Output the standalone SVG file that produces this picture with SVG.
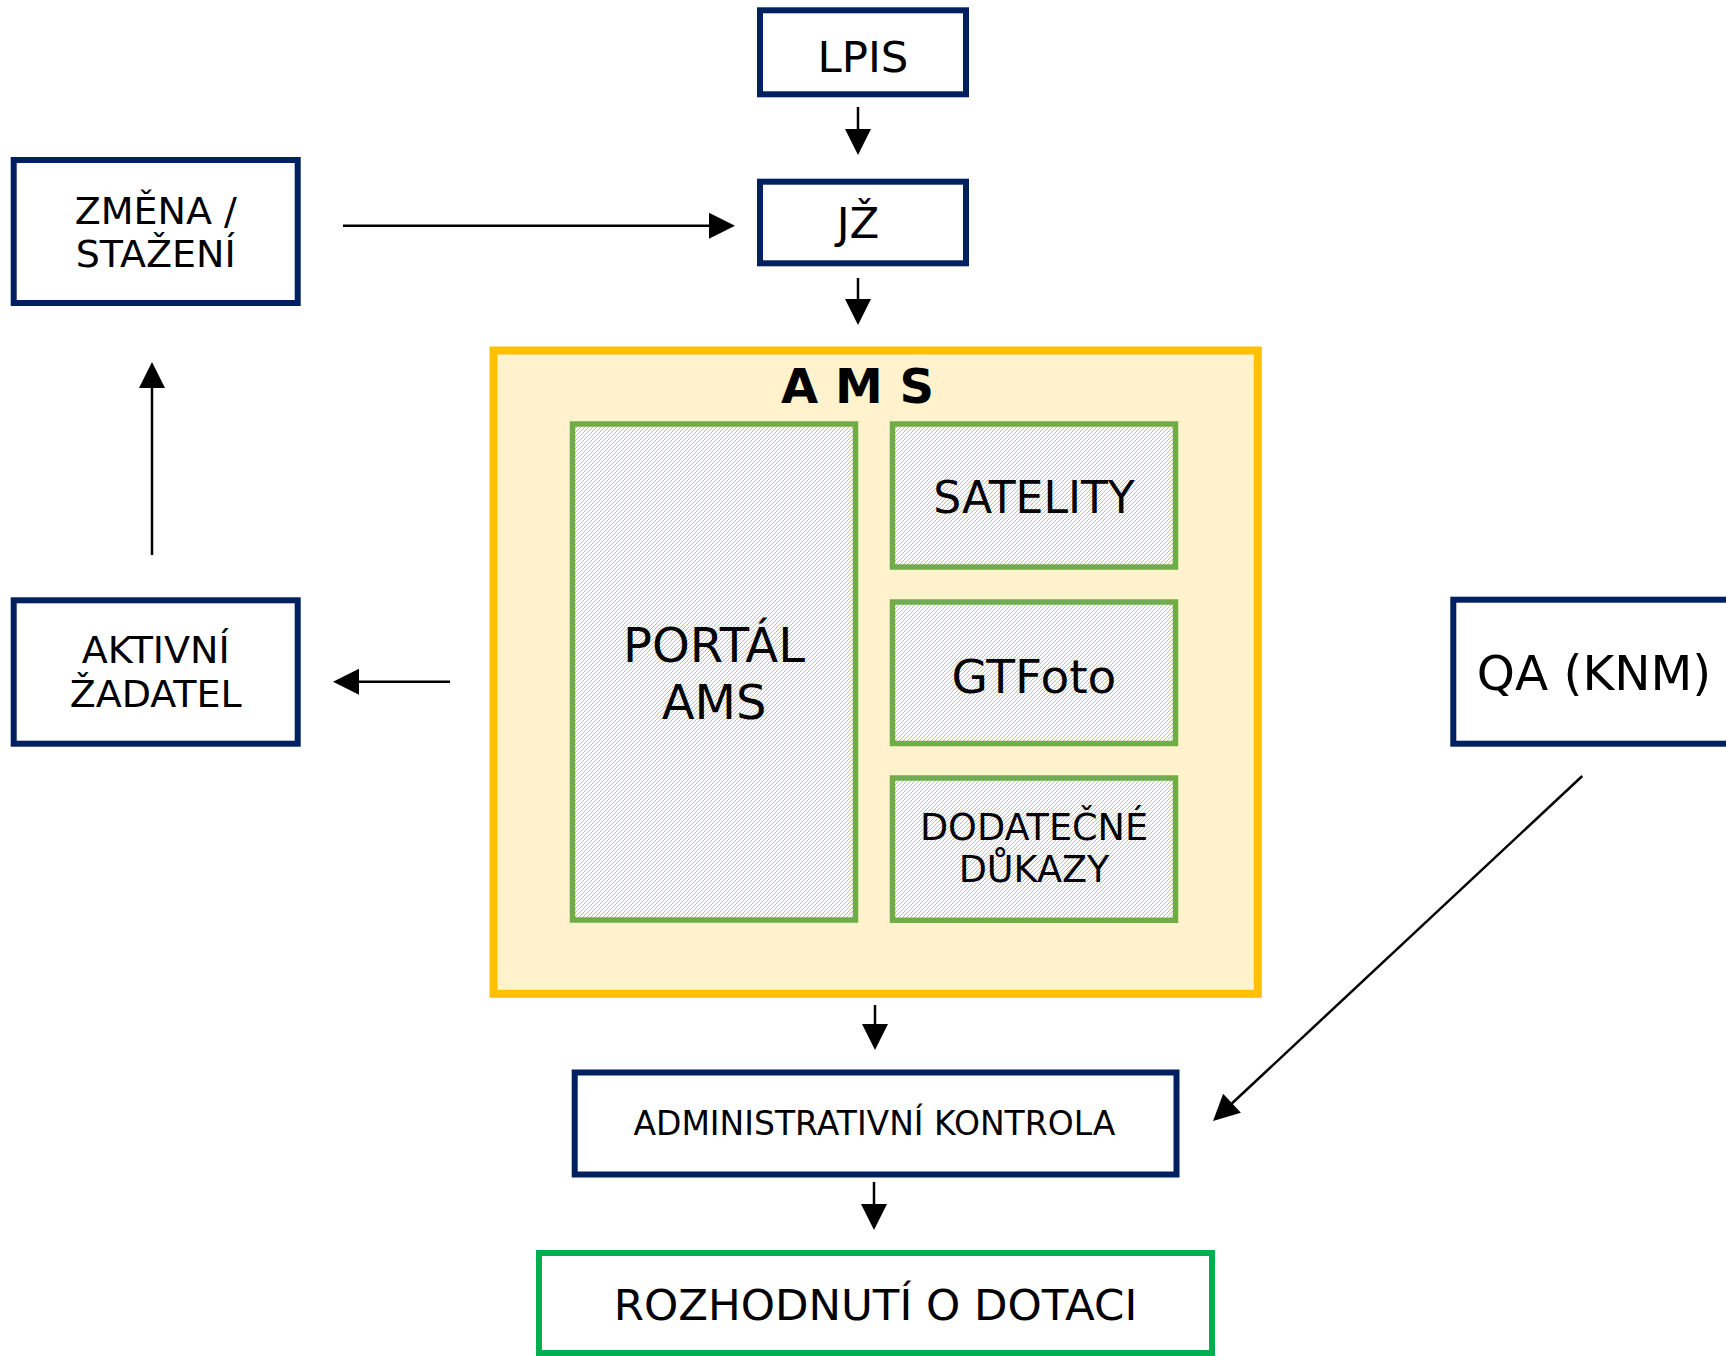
<svg xmlns="http://www.w3.org/2000/svg" width="1726" height="1356" viewBox="0 0 1726 1356">
<style>
text{font-family:"DejaVu Sans",Verdana,sans-serif;fill:#000;text-anchor:middle}
.nv{fill:#fff;stroke:#002060;stroke-width:6}
.gr{fill:url(#hatch);stroke:#70AD47;stroke-width:5.5}
.ln{stroke:#000;stroke-width:2.5;fill:none;marker-end:url(#ah)}
</style>
<defs>
<pattern id="hatch" patternUnits="userSpaceOnUse" width="4" height="4">
<rect width="4" height="4" fill="#fff"/>
<path d="M3,0h1v1h-1z M2,1h1v1h-1z M1,2h1v1h-1z M0,3h1v1h-1z" fill="#FFC000" shape-rendering="crispEdges"/>
</pattern>
<marker id="ah" markerUnits="userSpaceOnUse" markerWidth="27" markerHeight="27" refX="1" refY="13" orient="auto" overflow="visible">
<path d="M0,0 L26,13 L0,26 z" fill="#000"/>
</marker>
</defs>
<g id="connectors">
<line class="ln" x1="858" y1="107" x2="858" y2="130"/>
<line class="ln" x1="858" y1="278" x2="858" y2="300"/>
<line class="ln" x1="343" y1="225.7" x2="710" y2="225.7"/>
<line class="ln" x1="152" y1="555" x2="152" y2="387"/>
<line class="ln" x1="450" y1="681.7" x2="358" y2="681.7"/>
<line class="ln" x1="875" y1="1005" x2="875" y2="1025"/>
<line class="ln" x1="874" y1="1182" x2="874" y2="1205"/>
<line class="ln" x1="1582.3" y1="776" x2="1231.3" y2="1104"/>
</g>
<g id="lpis"><rect class="nv" x="760" y="10.3" width="206" height="84"/><text x="863" y="71.7" font-size="43.5">LPIS</text></g>
<g id="jz"><rect class="nv" x="760" y="181.7" width="206" height="81.6"/><text x="858" y="238.3" font-size="43.5">JŽ</text></g>
<g id="zmena"><rect class="nv" x="13.7" y="160" width="284" height="143"/><text x="155.7" y="223.5" font-size="38">ZMĚNA /</text><text x="155.7" y="266.7" font-size="38">STAŽENÍ</text></g>
<g id="aktivni"><rect class="nv" x="13.7" y="600.3" width="284" height="143.4"/><text x="155.7" y="662.8" font-size="38">AKTIVNÍ</text><text x="155.7" y="706.8" font-size="38">ŽADATEL</text></g>
<g id="qa"><rect class="nv" x="1453.3" y="599.7" width="284" height="144"/><text x="1594" y="690" font-size="48.5">QA (KNM)</text></g>
<g id="ams"><rect x="493.5" y="350.5" width="764.3" height="643.3" fill="#FFF2CC" stroke="#FFC000" stroke-width="8"/><text x="857.5" y="402.7" font-size="48" font-weight="bold">A M S</text></g>
<g id="portal"><rect class="gr" x="572.5" y="424" width="283" height="496"/><text x="714" y="661.7" font-size="48">PORTÁL</text><text x="714" y="719.3" font-size="48">AMS</text></g>
<g id="satelity"><rect class="gr" x="892.5" y="424" width="283" height="143"/><text x="1034" y="512.7" font-size="44">SATELITY</text></g>
<g id="gtfoto"><rect class="gr" x="892.5" y="602" width="283" height="141.5"/><text x="1034" y="692.7" font-size="47">GTFoto</text></g>
<g id="dukazy"><rect class="gr" x="892.5" y="778" width="283" height="142.3"/><text x="1034" y="840" font-size="36.6">DODATEČNÉ</text><text x="1034" y="881.7" font-size="36.6">DŮKAZY</text></g>
<g id="admin"><rect class="nv" x="574.7" y="1072.5" width="601.8" height="102"/><text x="874.4" y="1135" font-size="33">ADMINISTRATIVNÍ KONTROLA</text></g>
<g id="rozhodnuti"><rect x="539" y="1253" width="673" height="100" fill="#fff" stroke="#00B050" stroke-width="6"/><text x="875.5" y="1320" font-size="43.5">ROZHODNUTÍ O DOTACI</text></g>
</svg>
